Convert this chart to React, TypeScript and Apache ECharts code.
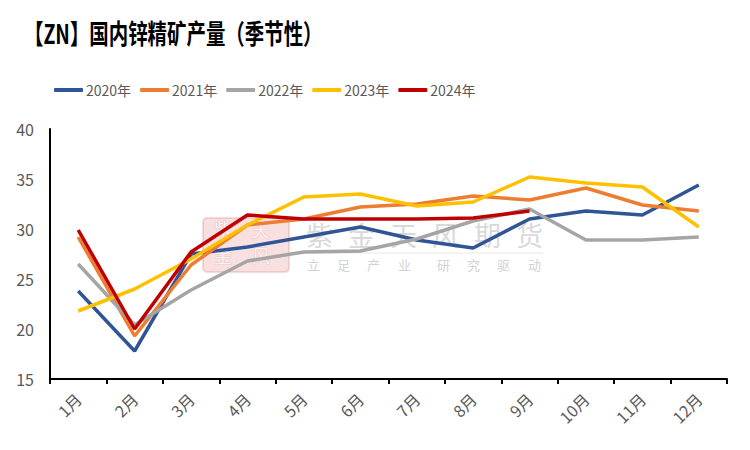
import React, { useEffect, useRef } from "react";
import * as echarts from "echarts";

const categories = ["1月", "2月", "3月", "4月", "5月", "6月", "7月", "8月", "9月", "10月", "11月", "12月"];
const yTicks = [15, 20, 25, 30, 35, 40];
const s2020 = [23.8, 17.8, 27.5, 28.2, 29.2, 30.2, 28.9, 28.1, 31.0, 31.8, 31.4, 34.4];
const s2021 = [29.2, 19.3, 26.4, 30.4, 31.0, 32.2, 32.5, 33.3, 32.9, 34.1, 32.4, 31.8];
const s2022 = [26.5, 20.4, 23.9, 26.8, 27.7, 27.8, 29.0, 30.8, 32.0, 28.9, 28.9, 29.2];
const s2023 = [21.8, 24.0, 27.0, 30.4, 33.2, 33.5, 32.3, 32.7, 35.2, 34.6, 34.2, 30.2];
const s2024 = [29.9, 20.0, 27.7, 31.4, 31.0, 31.0, 31.0, 31.1, 31.8];
const seriesNames = ["2020年", "2021年", "2022年", "2023年", "2024年"];
const seriesData = [s2020, s2021, s2022, s2023, s2024];
const colors = ["#2F5597", "#ED7D31", "#A5A5A5", "#FFC000", "#C00000"];
const titleText = "【ZN】国内锌精矿产量（季节性）";
const brandChars = ["紫", "金", "天", "风", "期", "货"];
const sloganChars = ["立", "足", "产", "业", "研", "究", "驱", "动"];
const sealChars = ["紫", "天", "金", "风"];

const FONT = "'Noto Sans CJK SC', 'Noto Sans', sans-serif";

export default function App() {
  const ref = useRef<HTMLDivElement>(null);
  useEffect(() => {
    if (!ref.current) return;
    const chart = echarts.init(ref.current, undefined, { renderer: "svg" });
    const sloganX = [307, 337, 367, 398, 437, 467, 497, 528];
    const graphics: any[] = [
      {
        type: "text",
        x: 24,
        y: 19,
        scaleX: 0.72,
        style: { text: titleText, font: "bold 27px 'Noto Sans CJK SC'", fill: "#000" },
        z: 10,
      },
      {
        type: "rect",
        x: 203,
        y: 218,
        shape: { width: 86, height: 54, r: 4 },
        style: { fill: "rgba(232,160,160,0.32)", stroke: "rgba(220,140,140,0.3)", lineWidth: 2 },
        z: 0,
      },
      ...sealChars.map((c, i) => ({
        type: "text",
        x: 214 + (i % 2) * 38,
        y: 220 + Math.floor(i / 2) * 26,
        style: { text: c, font: "18px 'Noto Sans CJK SC'", fill: "rgba(255,255,255,0.8)", stroke: "rgba(220,140,140,0.35)", lineWidth: 1 },
        z: 0,
      })),
      ...brandChars.map((c, i) => ({
        type: "text",
        x: 306 + i * 42,
        y: 221,
        style: { text: c, font: "27px 'Noto Sans CJK SC'", fill: "#d9d9d9" },
        z: 0,
      })),
      {
        type: "line",
        shape: { x1: 307, y1: 253, x2: 543, y2: 253 },
        style: { stroke: "#e8e8e8", lineWidth: 1 },
        z: 0,
      },
      ...sloganChars.map((c, i) => ({
        type: "text",
        x: sloganX[i],
        y: 258,
        style: { text: c, font: "13px 'Noto Sans CJK SC'", fill: "#d3d3d3" },
        z: 0,
      })),
    ];
    chart.setOption({
      animation: false,
      backgroundColor: "#fff",
      textStyle: { fontFamily: FONT },
      legend: {
        left: 49,
        top: 78,
        itemWidth: 29,
        itemHeight: 4,
        itemGap: 9,
        icon: "roundRect",
        textStyle: { fontSize: 14, color: "#595959", fontFamily: FONT, padding: [0, 0, 0, -2] },
        data: seriesNames,
      },
      grid: { left: 50, right: 23, top: 129, bottom: 71, containLabel: false },
      xAxis: {
        type: "category",
        data: categories,
        boundaryGap: true,
        axisLine: { show: true, lineStyle: { color: "#000", width: 2 } },
        axisTick: { show: true, length: 5, inside: false, lineStyle: { color: "#000", width: 2 } },
        axisLabel: { rotate: 45, fontSize: 16, color: "#595959", margin: 17, fontFamily: FONT },
        splitLine: { show: false },
      },
      yAxis: {
        type: "value",
        min: yTicks[0],
        max: yTicks[yTicks.length - 1],
        interval: 5,
        axisLine: { show: true, lineStyle: { color: "#000", width: 2 } },
        axisTick: { show: false },
        splitLine: { show: false },
        axisLabel: { fontSize: 16, color: "#595959", margin: 16, fontFamily: FONT },
      },
      graphic: graphics,
      series: seriesNames.map((name, i) => ({
        name,
        type: "line",
        data: seriesData[i],
        symbol: "none",
        smooth: false,
        lineStyle: { color: colors[i], width: 3.5 },
        itemStyle: { color: colors[i] },
        z: 2 + i,
      })),
    });
    return () => chart.dispose();
  }, []);
  return <div ref={ref} style={{ width: 750, height: 450, position: "absolute", left: 0, top: 0 }} />;
}
